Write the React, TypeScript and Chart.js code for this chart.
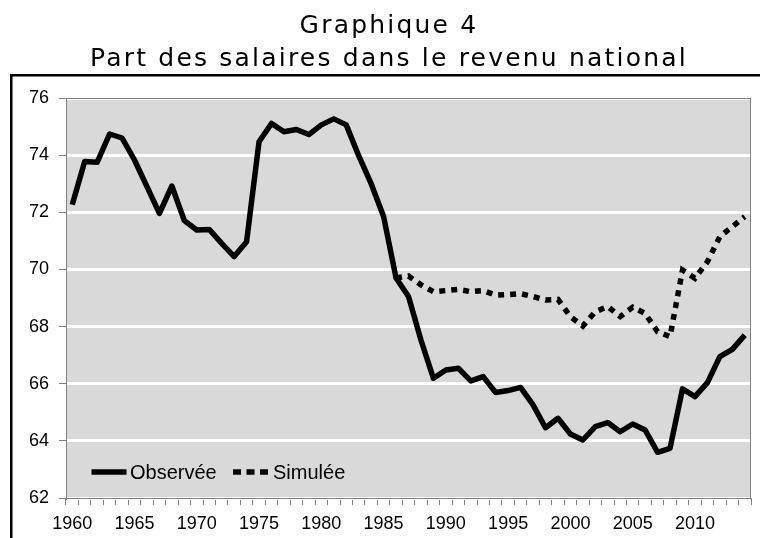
import React, { useEffect, useRef } from "react";
import { Chart, registerables } from "chart.js";

Chart.register(...registerables);

const titleLine1 = "Graphique 4";
const titleLine2 = "Part des salaires dans le revenu national";

const years = [
  "1960", "1961", "1962", "1963", "1964", "1965", "1966", "1967", "1968", "1969",
  "1970", "1971", "1972", "1973", "1974", "1975", "1976", "1977", "1978", "1979",
  "1980", "1981", "1982", "1983", "1984", "1985", "1986", "1987", "1988", "1989",
  "1990", "1991", "1992", "1993", "1994", "1995", "1996", "1997", "1998", "1999",
  "2000", "2001", "2002", "2003", "2004", "2005", "2006", "2007", "2008", "2009",
  "2010", "2011", "2012", "2013", "2014",
];

const observee = [
  72.26, 73.78, 73.75, 74.74, 74.6, 73.83, 72.9, 71.96, 72.92, 71.71,
  71.38, 71.4, 70.91, 70.45, 70.97, 74.47, 75.11, 74.82, 74.9, 74.72,
  75.06, 75.27, 75.06, 73.98, 73.0, 71.85, 69.7, 69.05, 67.53, 66.19,
  66.48, 66.54, 66.1, 66.25, 65.69, 65.76, 65.87, 65.26, 64.46, 64.79,
  64.24, 64.03, 64.5, 64.64, 64.32, 64.59, 64.38, 63.6, 63.74, 65.82,
  65.55, 66.04, 66.95, 67.2, 67.7,
];

const simulee = [
  null, null, null, null, null, null, null, null, null, null,
  null, null, null, null, null, null, null, null, null, null,
  null, null, null, null, null, null, 69.7, 69.77, 69.46, 69.22,
  69.26, 69.3, 69.22, 69.26, 69.1, 69.12, 69.15, 69.05, 68.93, 68.95,
  68.35, 68.02, 68.52, 68.7, 68.35, 68.68, 68.46, 67.82, 67.65, 69.98,
  69.69, 70.27, 71.15, 71.5, 71.85,
];

const seriesLabels = ["Observée", "Simulée"];
const yTicks = [62, 64, 66, 68, 70, 72, 74, 76];

const LINE_W = 5.5;
const DASH = [6, 6];

const framePlugin = {
  id: "framePlugin",
  beforeDraw(chart: any) {
    const { ctx, chartArea } = chart;
    ctx.save();
    ctx.fillStyle = "#ffffff";
    ctx.fillRect(0, 0, chart.width, chart.height);
    ctx.fillStyle = "#000000";
    ctx.fillRect(10, 74, chart.width - 10, 2.5);
    ctx.fillRect(10, 74, 2.5, chart.height - 74);
    ctx.fillStyle = "#d9d9d9";
    ctx.fillRect(chartArea.left, chartArea.top, chartArea.right - chartArea.left, chartArea.bottom - chartArea.top);
    ctx.restore();
  },
  beforeDatasetsDraw(chart: any) {
    const { ctx, chartArea } = chart;
    ctx.save();
    ctx.strokeStyle = "#808080";
    ctx.lineWidth = 1;
    ctx.strokeRect(chartArea.left + 0.5, chartArea.top + 0.5, chartArea.right - chartArea.left - 1, chartArea.bottom - chartArea.top);
    ctx.restore();
  },
  afterDatasetsDraw(chart: any) {
    const { ctx } = chart;
    const y = 472;
    ctx.save();
    ctx.strokeStyle = "#000";
    ctx.lineWidth = LINE_W;
    ctx.beginPath();
    ctx.moveTo(91.5, y);
    ctx.lineTo(126.5, y);
    ctx.stroke();
    ctx.setLineDash([8, 5.5]);
    ctx.beginPath();
    ctx.moveTo(233, y);
    ctx.lineTo(269, y);
    ctx.stroke();
    ctx.setLineDash([]);
    ctx.fillStyle = "#000";
    ctx.font = "20px 'Liberation Sans', Arial, sans-serif";
    ctx.textBaseline = "middle";
    ctx.textAlign = "left";
    ctx.fillText(chart.data.datasets[0].label, 130, y + 1);
    ctx.fillText(chart.data.datasets[1].label, 273, y + 1);
    ctx.restore();
  },
};

export default function App() {
  const canvasRef = useRef<HTMLCanvasElement | null>(null);

  useEffect(() => {
    const canvas = canvasRef.current;
    if (!canvas) return;
    const chart = new Chart(canvas, {
      type: "line",
      data: {
        labels: years,
        datasets: [
          {
            label: seriesLabels[0],
            data: observee,
            borderColor: "#000",
            backgroundColor: "#000",
            borderWidth: LINE_W,
            pointRadius: 0,
            tension: 0,
            borderJoinStyle: "round",
            fill: false,
          },
          {
            label: seriesLabels[1],
            data: simulee,
            borderColor: "#000",
            backgroundColor: "#000",
            borderWidth: LINE_W,
            borderDash: DASH,
            pointRadius: 0,
            tension: 0,
            fill: false,
          },
        ],
      },
      options: {
        responsive: false,
        animation: false,
        devicePixelRatio: 1,
        layout: { padding: { left: 14, top: 98, right: 9, bottom: 0 } },
        plugins: {
          legend: { display: false },
          title: { display: false },
          tooltip: { enabled: false },
        },
        scales: {
          x: {
            type: "category",
            offset: true,
            afterFit(scale: any) {
              scale.height = 40;
            },
            grid: {
              display: true,
              offset: true,
              drawOnChartArea: false,
              drawTicks: true,
              tickLength: 7,
              tickColor: "#808080",
              color: "#808080",
            },
            border: { display: true, color: "#808080" },
            ticks: {
              autoSkip: false,
              maxRotation: 0,
              minRotation: 0,
              padding: 8,
              color: "#000",
              font: { family: "'Liberation Sans', Arial, sans-serif", size: 18 },
              callback(this: any, value: any) {
                const lab = this.getLabelForValue(value);
                return Number(lab) % 5 === 0 ? lab : "";
              },
            },
          },
          y: {
            min: yTicks[0],
            max: yTicks[yTicks.length - 1],
            afterFit(scale: any) {
              scale.width = 52;
            },
            afterBuildTicks(scale: any) {
              scale.ticks = yTicks.map((v) => ({ value: v }));
            },
            grid: {
              display: true,
              color: "#ffffff",
              lineWidth: 3,
              drawTicks: true,
              tickLength: 7,
              tickColor: "#808080",
              tickWidth: 1,
            },
            border: { display: true, color: "#808080" },
            ticks: {
              padding: 10,
              color: "#000",
              font: { family: "'Liberation Sans', Arial, sans-serif", size: 18 },
            },
          },
        },
      },
      plugins: [framePlugin],
    } as any);
    return () => chart.destroy();
  }, []);

  const titleStyle: React.CSSProperties = {
    position: "absolute",
    left: 9,
    width: 760,
    textAlign: "center",
    fontFamily: "'DejaVu Sans', Verdana, sans-serif",
    fontSize: 25,
    lineHeight: "33px",
    letterSpacing: "2.2px",
    color: "#000",
    whiteSpace: "nowrap",
    margin: 0,
  };

  return (
    <div style={{ position: "absolute", left: 0, top: 0, width: 760, height: 538, background: "#fff", overflow: "hidden" }}>
      <canvas ref={canvasRef} width={760} height={538} style={{ position: "absolute", left: 0, top: 0, width: 760, height: 538 }} />
      <div style={{ ...titleStyle, top: 8 }}>{titleLine1}</div>
      <div style={{ ...titleStyle, top: 40.5 }}>{titleLine2}</div>
    </div>
  );
}
